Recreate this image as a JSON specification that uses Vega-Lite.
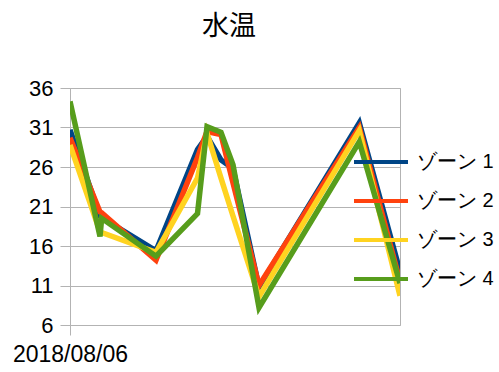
{
  "$schema": "https://vega.github.io/schema/vega-lite/v6.json",
  "autosize": {"type": "none"},
  "padding": {"left": 70, "top": 88, "right": 99, "bottom": 47},
  "width": 330,
  "height": 237,
  "background": "white",
  "title": {
    "text": "水温",
    "font": "Noto Sans CJK JP",
    "fontSize": 27,
    "fontWeight": "normal",
    "color": "black",
    "anchor": "middle",
    "dx": -6,
    "offset": 36
  },
  "config": {
    "view": {"stroke": "#b3b3b3", "strokeWidth": 1},
    "axis": {
      "labelFont": "Liberation Sans",
      "labelFontSize": 22,
      "labelColor": "black",
      "tickColor": "#b3b3b3",
      "domainColor": "#b3b3b3",
      "gridColor": "#b3b3b3",
      "gridOpacity": 1,
      "tickSize": 10,
      "title": null
    },
    "legend": {
      "labelFont": "Liberation Sans",
      "labelFontSize": 20,
      "labelColor": "black"
    }
  },
  "data": {
    "values": [
      {"time": "2018-08-06T00:00", "zone": "ゾーン 1", "temp": 30.7},
      {"time": "2018-08-07T00:00", "zone": "ゾーン 1", "temp": 19.8},
      {"time": "2018-08-07T01:20", "zone": "ゾーン 1", "temp": 19.6},
      {"time": "2018-08-08T20:48", "zone": "ゾーン 1", "temp": 15.4},
      {"time": "2018-08-10T06:00", "zone": "ゾーン 1", "temp": 28.2},
      {"time": "2018-08-10T13:36", "zone": "ゾーン 1", "temp": 29.9},
      {"time": "2018-08-11T00:48", "zone": "ゾーン 1", "temp": 26.9},
      {"time": "2018-08-11T10:24", "zone": "ゾーン 1", "temp": 25.8},
      {"time": "2018-08-12T07:12", "zone": "ゾーン 1", "temp": 10.8},
      {"time": "2018-08-15T15:26", "zone": "ゾーン 1", "temp": 31.6},
      {"time": "2018-08-17T00:00", "zone": "ゾーン 1", "temp": 12.8},

      {"time": "2018-08-06T00:00", "zone": "ゾーン 2", "temp": 29.7},
      {"time": "2018-08-07T00:00", "zone": "ゾーン 2", "temp": 20.3},
      {"time": "2018-08-07T01:20", "zone": "ゾーン 2", "temp": 20.2},
      {"time": "2018-08-08T20:48", "zone": "ゾーン 2", "temp": 14.2},
      {"time": "2018-08-10T06:00", "zone": "ゾーン 2", "temp": 27.2},
      {"time": "2018-08-10T13:36", "zone": "ゾーン 2", "temp": 30.5},
      {"time": "2018-08-11T00:48", "zone": "ゾーン 2", "temp": 30.1},
      {"time": "2018-08-11T10:24", "zone": "ゾーン 2", "temp": 24.0},
      {"time": "2018-08-12T07:12", "zone": "ゾーン 2", "temp": 11.0},
      {"time": "2018-08-15T15:26", "zone": "ゾーン 2", "temp": 31.0},
      {"time": "2018-08-17T00:00", "zone": "ゾーン 2", "temp": 11.5},

      {"time": "2018-08-06T00:00", "zone": "ゾーン 3", "temp": 28.8},
      {"time": "2018-08-07T00:00", "zone": "ゾーン 3", "temp": 17.8},
      {"time": "2018-08-07T01:20", "zone": "ゾーン 3", "temp": 17.7},
      {"time": "2018-08-08T20:48", "zone": "ゾーン 3", "temp": 15.2},
      {"time": "2018-08-10T06:00", "zone": "ゾーン 3", "temp": 24.6},
      {"time": "2018-08-10T13:36", "zone": "ゾーン 3", "temp": 30.3},
      {"time": "2018-08-11T00:48", "zone": "ゾーン 3", "temp": 24.6},
      {"time": "2018-08-11T10:24", "zone": "ゾーン 3", "temp": 19.8},
      {"time": "2018-08-12T07:12", "zone": "ゾーン 3", "temp": 9.6},
      {"time": "2018-08-15T15:26", "zone": "ゾーン 3", "temp": 30.6},
      {"time": "2018-08-17T00:00", "zone": "ゾーン 3", "temp": 9.7},

      {"time": "2018-08-06T00:00", "zone": "ゾーン 4", "temp": 34.3},
      {"time": "2018-08-07T00:00", "zone": "ゾーン 4", "temp": 17.2},
      {"time": "2018-08-07T01:20", "zone": "ゾーン 4", "temp": 19.5},
      {"time": "2018-08-08T20:48", "zone": "ゾーン 4", "temp": 14.7},
      {"time": "2018-08-10T06:00", "zone": "ゾーン 4", "temp": 20.1},
      {"time": "2018-08-10T13:36", "zone": "ゾーン 4", "temp": 31.1},
      {"time": "2018-08-11T00:48", "zone": "ゾーン 4", "temp": 30.4},
      {"time": "2018-08-11T10:24", "zone": "ゾーン 4", "temp": 26.3},
      {"time": "2018-08-12T07:12", "zone": "ゾーン 4", "temp": 8.2},
      {"time": "2018-08-15T15:26", "zone": "ゾーン 4", "temp": 29.2},
      {"time": "2018-08-17T00:00", "zone": "ゾーン 4", "temp": 11.3}
    ]
  },
  "mark": {"type": "line", "strokeWidth": 5.5, "strokeJoin": "miter", "clip": true},
  "encoding": {
    "x": {
      "field": "time",
      "type": "temporal",
      "scale": {
        "domain": [
          {"year": 2018, "month": 8, "date": 6},
          {"year": 2018, "month": 8, "date": 17}
        ]
      },
      "axis": {
        "values": [{"year": 2018, "month": 8, "date": 6}],
        "format": "%Y/%m/%d",
        "grid": false,
        "domain": false,
        "labelFontSize": 23,
        "labelPadding": 8,
        "labelFlush": false
      }
    },
    "y": {
      "field": "temp",
      "type": "quantitative",
      "scale": {"domain": [6, 36], "nice": false, "zero": false},
      "axis": {
        "values": [6, 11, 16, 21, 26, 31, 36],
        "grid": true,
        "domain": true,
        "labelPadding": 7
      }
    },
    "color": {
      "field": "zone",
      "type": "nominal",
      "scale": {
        "domain": ["ゾーン 1", "ゾーン 2", "ゾーン 3", "ゾーン 4"],
        "range": ["#004586", "#ff420e", "#ffd320", "#579d1c"]
      },
      "legend": {
        "title": null,
        "orient": "none",
        "legendX": 282,
        "legendY": 45,
        "symbolType": "stroke",
        "symbolStrokeWidth": 4,
        "symbolSize": 2916,
        "labelOffset": 7,
        "rowPadding": -4
      }
    }
  }
}
